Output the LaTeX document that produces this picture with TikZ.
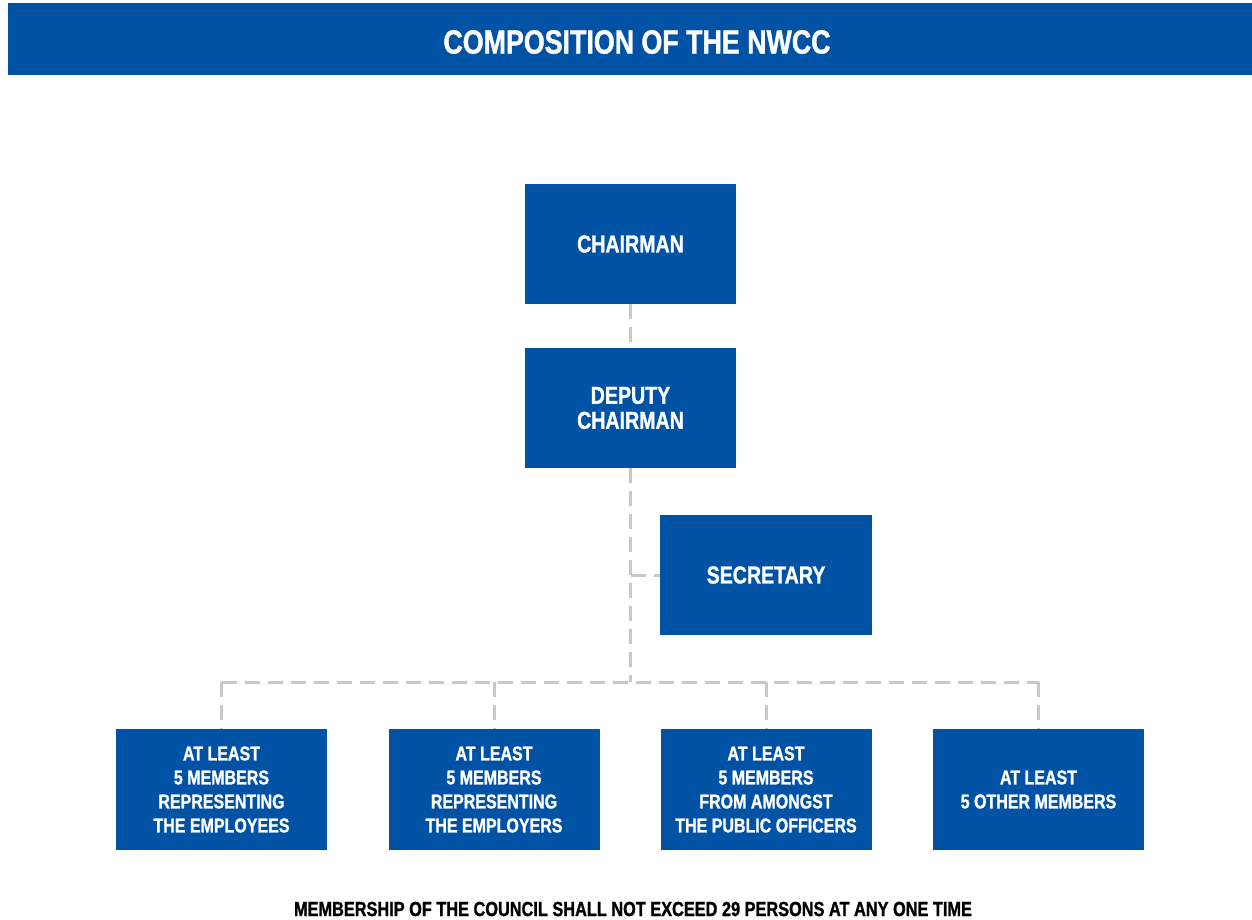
\documentclass[tikz,border=0pt]{standalone}
\usepackage{fontspec}
\setmainfont{Liberation Sans}[FakeStretch=0.8, BoldFeatures={FakeBold=1.2}]
\begin{document}
\definecolor{nwccblue}{RGB}{0,82,165}
\definecolor{linkgrey}{RGB}{200,200,200}
\begin{tikzpicture}[x=1pt,y=-1pt,
  unit/.style={rectangle, fill=nwccblue, draw=none, inner sep=0pt,
    minimum width=211pt, minimum height=120pt, align=center,
    text=white, font=\fontsize{24.5}{25}\selectfont\bfseries},
  group/.style={unit, minimum height=121pt, font=\fontsize{20}{24}\selectfont\bfseries},
  link/.style={draw=linkgrey, line width=3pt, dash pattern=on 15pt off 8pt}]
  \useasboundingbox (0,0) rectangle (1252,919);

  % title banner
  \fill[nwccblue] (8,3) rectangle (1252,75);
  \node[text=white, font=\fontsize{33.5}{36}\selectfont\bfseries] (title) at (637,42) {COMPOSITION OF THE NWCC};

  % officers
  \node[unit] (chair) at (630.5,244) {CHAIRMAN};
  \node[unit] (deputy) at (630.5,408) {DEPUTY\\CHAIRMAN};
  \node[unit, minimum width=212pt] (sec) at (766,575) {SECRETARY};

  % member groups
  \node[group] (emp) at (221.5,789.5) {AT LEAST\\5 MEMBERS\\REPRESENTING\\THE EMPLOYEES};
  \node[group] (empr) at (494,789.5) {AT LEAST\\5 MEMBERS\\REPRESENTING\\THE EMPLOYERS};
  \node[group] (pub) at (766,789.5) {AT LEAST\\5 MEMBERS\\FROM AMONGST\\THE PUBLIC OFFICERS};
  \node[group] (oth) at (1038.5,789.5) {AT LEAST\\5 OTHER MEMBERS};

  % connectors
  \coordinate (trunk) at (630.5,682);
  \coordinate (barL) at (221.5,682);
  \coordinate (barR) at (1038.5,682);
  \draw[link] (chair.south) -- (deputy.north);
  \draw[link] (deputy.south) -- (trunk);
  \draw[link] (deputy.south |- sec.west) -- (sec.west);
  \draw[link] (barL) -- (barR);
  \draw[link] (barL) -- (emp.north);
  \draw[link] (empr.north |- trunk) -- (empr.north);
  \draw[link] (pub.north |- trunk) -- (pub.north);
  \draw[link] (barR) -- (oth.north);

  % footnote
  \node[text=black, font=\fontsize{20.4}{22}\selectfont\bfseries] (note) at (633,909)
    {MEMBERSHIP OF THE COUNCIL SHALL NOT EXCEED 29 PERSONS AT ANY ONE TIME};
\end{tikzpicture}
\end{document}
